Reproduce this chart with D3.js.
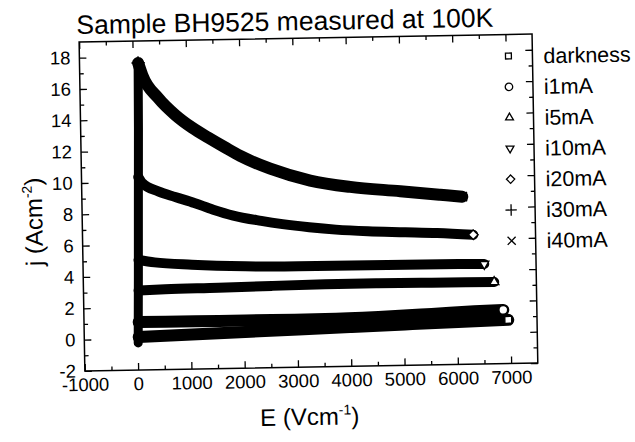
<!DOCTYPE html>
<html><head><meta charset="utf-8">
<script src="https://cdn.jsdelivr.net/npm/d3@7"></script>
<style>
body{margin:0;background:#fff}
svg{display:block}
text{font-family:"Liberation Sans",Arial,Helvetica,sans-serif;fill:#000}
</style>
</head><body>
<svg id="c" width="635" height="442"></svg>
<script>
// ---- data ----
const titleText = "Sample BH9525 measured at 100K";
const categories = ["darkness","i1mA","i5mA","i10mA","i20mA","i30mA","i40mA"];
const xDomain = [-1000, 7500];
const yDomain = [-2, 19];
const xMajorTicks = [-1000,0,1000,2000,3000,4000,5000,6000,7000];
const xMinorTicks = [-500,500,1500,2500,3500,4500,5500,6500];
const yMajorTicks = [-2,0,2,4,6,8,10,12,14,16,18];
const yMinorTicks = [-1,1,3,5,7,9,11,13,15,17];

const darkE = [21,1021,2021,3021,4021,5021,6021,6960];
const darkJ = [0.11,0.21,0.31,0.41,0.51,0.61,0.71,0.79];
const i1E  = [26,526,1526,2526,3526,4526,5526,6326,6870];
const i1J  = [1.06,1.05,1.04,1.04,1.05,1.12,1.25,1.37,1.43];
const i5E  = [34,534,1534,2534,3534,4534,5534,6709];
const i5J  = [3.07,3.12,3.16,3.22,3.26,3.27,3.25,3.22];
const i10E = [43,343,1043,2043,3043,4043,5043,6043,6528];
const i10J = [5.02,4.85,4.66,4.50,4.44,4.43,4.42,4.41,4.38];
const i20E = [65,138,436,753,1108,1461,1835,2359,2757,3257,3755,4355,5057,5657,6331];
const i20J = [10.32,9.93,9.38,9.0,8.6,8.15,7.75,7.38,7.15,6.92,6.74,6.6,6.5,6.41,6.26];
const i30E = [10,35,60,85,100];
const i30J = [-0.27,4,8.85,13.5,17.6];
const i40E = [100,174,466,780,1095,1392,1707,1985,2544,3290,4039,4976,5725,6138];
const i40J = [17.6,16.82,15.34,14.24,13.4,12.75,12.1,11.55,10.7,9.9,9.45,9.12,8.85,8.7];

const seriesE = [darkE,i1E,i5E,i10E,i20E,i30E,i40E];
const seriesJ = [darkJ,i1J,i5J,i10J,i20J,i30J,i40J];

// ---- styling ----
const bandWidth = [12,12,10,10,10,9,12];
const symbolTypes = [d3.symbolSquare2,d3.symbolCircle,d3.symbolTriangle2,"down",d3.symbolDiamond2,d3.symbolPlus,d3.symbolTimes];

const svg = d3.select("#c");
const g = svg.append("g").attr("transform","rotate(-1,310,205)");
const L=82,R=535,T=38,B=367;
const x = d3.scaleLinear().domain(xDomain).range([L,R]);
const y = d3.scaleLinear().domain(yDomain).range([B,T]);

function symPath(t,size){
  if(t==="down") return d3.symbol(d3.symbolTriangle2,size)();
  return d3.symbol(t,size)();
}
function symRot(t){return t==="down"?" rotate(180)":"";}

// axes
function styleAxis(sel){
  sel.select(".domain").remove();
  sel.selectAll("line").attr("stroke","#000").attr("stroke-width",1.3);
  sel.selectAll("text").style("font-size","18.5px").attr("fill","#000");
}
const fmt = d => String(d);
g.append("g").attr("transform",`translate(0,${B})`)
 .call(d3.axisBottom(x).tickValues(xMajorTicks).tickSizeInner(-7).tickSizeOuter(0).tickPadding(7).tickFormat(fmt)).call(styleAxis);
g.append("g").attr("transform",`translate(0,${B})`)
 .call(d3.axisBottom(x).tickValues(xMinorTicks).tickSizeInner(-4).tickSizeOuter(0).tickFormat("")).call(styleAxis);
g.append("g").attr("transform",`translate(0,${T})`)
 .call(d3.axisTop(x).tickValues(xMajorTicks).tickSizeInner(-7).tickSizeOuter(0).tickFormat("")).call(styleAxis);
g.append("g").attr("transform",`translate(0,${T})`)
 .call(d3.axisTop(x).tickValues(xMinorTicks).tickSizeInner(-4).tickSizeOuter(0).tickFormat("")).call(styleAxis);
g.append("g").attr("transform",`translate(${L},0)`)
 .call(d3.axisLeft(y).tickValues(yMajorTicks).tickSizeInner(-7).tickSizeOuter(0).tickPadding(9).tickFormat(fmt)).call(styleAxis);
g.append("g").attr("transform",`translate(${L},0)`)
 .call(d3.axisLeft(y).tickValues(yMinorTicks).tickSizeInner(-4).tickSizeOuter(0).tickFormat("")).call(styleAxis);
g.append("g").attr("transform",`translate(${R},0)`)
 .call(d3.axisRight(y).tickValues(yMajorTicks).tickSizeInner(-7).tickSizeOuter(0).tickFormat("")).call(styleAxis);
g.append("g").attr("transform",`translate(${R},0)`)
 .call(d3.axisRight(y).tickValues(yMinorTicks).tickSizeInner(-4).tickSizeOuter(0).tickFormat("")).call(styleAxis);

g.append("rect").attr("x",L).attr("y",T).attr("width",R-L).attr("height",B-T)
 .attr("fill","none").attr("stroke","#000").attr("stroke-width",1.5);

// data bands
const line = d3.line().x(d=>x(d[0])).y(d=>y(d[1])).curve(d3.curveMonotoneX);
const lineLin = d3.line().x(d=>x(d[0])).y(d=>y(d[1]));
categories.forEach((c,i)=>{
  const pts = seriesE[i].map((e,k)=>[e,seriesJ[i][k]]);
  g.append("path").attr("d",(c==="i30mA"?lineLin:line)(pts))
   .attr("fill","none").attr("stroke","#000").attr("stroke-width",bandWidth[i])
   .attr("stroke-linejoin","round").attr("stroke-linecap","round");
});
categories.forEach((c,i)=>{
  const n = seriesE[i].length-1;
  g.append("path").attr("d",symPath(symbolTypes[i],60))
   .attr("transform",`translate(${x(seriesE[i][n])},${y(seriesJ[i][n])})${symRot(symbolTypes[i])}`)
   .attr("fill","#fff").attr("stroke","#000").attr("stroke-width",1.4);
});

// legend
categories.forEach((c,i)=>{
  const ly = 59.5 + i*30.8;
  g.append("path").attr("d",symPath(symbolTypes[i],44))
   .attr("transform",`translate(511,${ly})${symRot(symbolTypes[i])}`)
   .attr("fill","#fff").attr("stroke","#000").attr("stroke-width",1.3);
  g.append("text").attr("x",546).attr("y",ly).attr("dy","0.36em")
   .style("font-size","21.5px").text(c);
});

// title and axis titles
g.append("text").attr("x",288).attr("y",30).attr("text-anchor","middle")
 .style("font-size","26.5px").text(titleText);

const xt = g.append("text").attr("x",306).attr("y",425).attr("text-anchor","middle").style("font-size","24px");
xt.append("tspan").text("E (Vcm");
xt.append("tspan").attr("dy",-10).style("font-size","14px").text("-1");
xt.append("tspan").attr("dy",10).text(")");

const yt = g.append("text").attr("transform","translate(42,217) rotate(-90)").attr("text-anchor","middle").style("font-size","24px");
yt.append("tspan").text("j (Acm");
yt.append("tspan").attr("dy",-10).style("font-size","14px").text("-2");
yt.append("tspan").attr("dy",10).text(")");
</script>
</body></html>
